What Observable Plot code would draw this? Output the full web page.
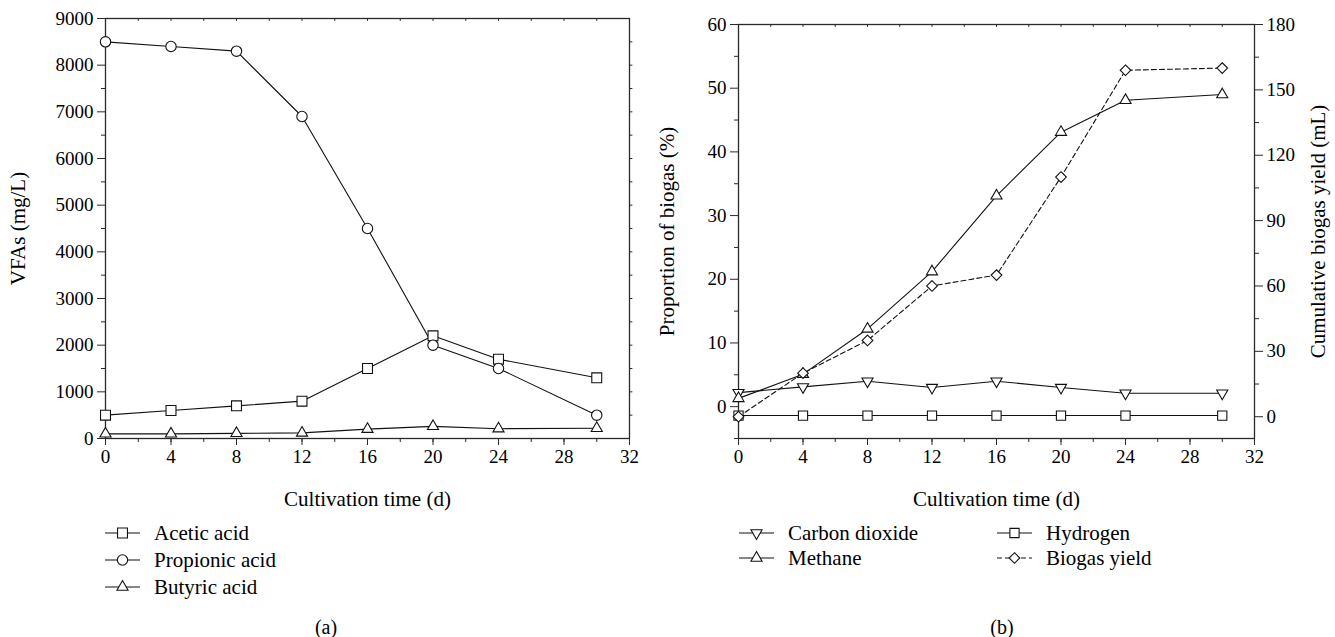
<!DOCTYPE html>
<html>
<head>
<meta charset="utf-8">
<script src="https://cdn.jsdelivr.net/npm/d3@7"></script>
<script src="https://cdn.jsdelivr.net/npm/@observablehq/plot@0.6"></script>
<style>
  html, body { margin: 0; padding: 0; background: #fff; }
  body { font-family: "Liberation Serif", "DejaVu Serif", serif; color: #000; }
  #wrap { position: relative; width: 1335px; height: 637px; overflow: hidden; }
  .panel { position: absolute; top: 0; }
  .panel svg { overflow: visible; }
  .leg { position: absolute; display: flex; align-items: center; font-size: 21px; line-height: 1; white-space: nowrap; }
  .leg svg { display: block; margin-right: 13px; }
  .cap { position: absolute; font-size: 20px; transform: translate(-50%, -50%); }
</style>
</head>
<body>
<div id="wrap">
  <div id="a" class="panel" style="left:0px"></div>
  <div id="b" class="panel" style="left:640px"></div>
  <div class="cap" style="left:326px; top:627px">(a)</div>
  <div class="cap" style="left:1002px; top:627px">(b)</div>
</div>
<script>
// ---------- data ----------
const days = [0, 4, 8, 12, 16, 20, 24, 30];

// panel (a): VFAs (mg/L)
const acetic    = [500, 600, 700, 800, 1500, 2200, 1700, 1300];
const propionic = [8500, 8400, 8300, 6900, 4500, 2000, 1500, 500];
const butyric   = [100, 100, 110, 120, 200, 260, 210, 220];

// panel (b): proportion of biogas (%) and cumulative yield (mL)
const carbonDioxide = [2.2, 3.1, 4.0, 3.0, 4.0, 3.0, 2.1, 2.1];
const methane       = [1.3, 5.1, 12.2, 21.2, 33.1, 43.1, 48.1, 49.0];
const hydrogen      = [-1.4, -1.4, -1.4, -1.4, -1.4, -1.4, -1.4, -1.4];
const biogasYield   = [0, 20, 35, 60, 65, 110, 159, 160];

// ticks
const xTicks      = [0, 4, 8, 12, 16, 20, 24, 28, 32];
const xMinorTicks = d3.range(0, 33, 2);
const yTicksA     = [0, 1000, 2000, 3000, 4000, 5000, 6000, 7000, 8000, 9000];
const yMinorA     = d3.range(500, 9000, 1000);
const yTicksB     = [0, 10, 20, 30, 40, 50, 60];
const yMinorB     = [-5, 5, 15, 25, 35, 45, 55];
const yRightTicks = [0, 30, 60, 90, 120, 150, 180];
const yRightMinor = [15, 45, 75, 105, 135, 165];

// ---------- styling ----------
const FONT = "'Liberation Serif', 'DejaVu Serif', serif";
const AXIS = "#2a2a2a";
const LINE = "#111";
const LABEL_SIZE = 21;

// right axis (mL) shares the left scale through a linear mapping
const LEFT_DOMAIN = [-5, 60], RIGHT_DOMAIN = [-10, 180];
const toLeft = v => LEFT_DOMAIN[0] + (v - RIGHT_DOMAIN[0]) * (LEFT_DOMAIN[1] - LEFT_DOMAIN[0]) / (RIGHT_DOMAIN[1] - RIGHT_DOMAIN[0]);
const fromLeft = v => RIGHT_DOMAIN[0] + (v - LEFT_DOMAIN[0]) * (RIGHT_DOMAIN[1] - RIGHT_DOMAIN[0]) / (LEFT_DOMAIN[1] - LEFT_DOMAIN[0]);

const seriesA = [
  {name: "Acetic acid",    values: acetic,    symbol: "square",    r: 5.6, rotate: 0},
  {name: "Propionic acid", values: propionic, symbol: "circle",    r: 5.2, rotate: 0},
  {name: "Butyric acid",   values: butyric,   symbol: "triangle2", r: 5.3, rotate: 0}
];
const seriesB = [
  {name: "Carbon dioxide", values: carbonDioxide, symbol: "triangle2", r: 5.3, rotate: 180, dash: null},
  {name: "Methane",        values: methane,       symbol: "triangle2", r: 5.3, rotate: 0,   dash: null},
  {name: "Hydrogen",       values: hydrogen,      symbol: "square",    r: 5.2, rotate: 0,   dash: null},
  {name: "Biogas yield",   values: biogasYield.map(toLeft), symbol: "diamond2", r: 4.8, rotate: 0, dash: "5,3"}
];

const rows = s => days.map((d, i) => ({day: d, value: s.values[i]}));

const tickShape = {draw(ctx, l) { ctx.moveTo(0, 0); ctx.lineTo(0, -l); }};
function edgeTicks(values, dim, anchor, length, rotate) {
  return Plot.vector(values, {
    [dim]: d => d, frameAnchor: anchor, length, rotate,
    shape: tickShape, anchor: "start", stroke: AXIS, strokeWidth: 1
  });
}

function seriesMarks(list) {
  return [
    ...list.map(s => Plot.line(rows(s), {x: "day", y: "value", stroke: LINE, strokeWidth: 1.1, strokeDasharray: s.dash || null})),
    ...list.map(s => Plot.dot(rows(s), {x: "day", y: "value", symbol: s.symbol, r: s.r, rotate: s.rotate, fill: "white", stroke: LINE, strokeWidth: 1.1}))
  ];
}

// axis title only (no ticks), so it can have its own font size
const titleY = (label, anchor, offset) => Plot.axisY([], {anchor, label, labelAnchor: "center", labelArrow: "none", labelOffset: offset, fontSize: LABEL_SIZE, tickSize: 0});
const titleX = (label, offset) => Plot.axisX([], {label, labelAnchor: "center", labelArrow: "none", labelOffset: offset, fontSize: LABEL_SIZE, tickSize: 0});

// ---------- panel (a) ----------
const plotA = Plot.plot({
  width: 660, height: 520,
  marginLeft: 105, marginRight: 31, marginTop: 18, marginBottom: 82,
  style: {fontFamily: FONT, fontSize: "19px", color: "#000", background: "transparent", overflow: "visible"},
  x: {domain: [0, 32]},
  y: {domain: [0, 9000]},
  marks: [
    Plot.frame({stroke: AXIS, strokeWidth: 1.3}),
    Plot.axisY(yTicksA, {tickSize: 8, tickPadding: 4, tickFormat: d => String(d), label: null, stroke: AXIS}),
    Plot.axisY(yMinorA, {tickSize: 4, tickFormat: () => "", label: null, stroke: AXIS}),
    titleY("VFAs (mg/L)", "left", 95),
    Plot.axisX(xTicks, {tickSize: 7, tickPadding: 4, tickFormat: d => String(d), label: null, stroke: AXIS}),
    Plot.axisX(xMinorTicks, {tickSize: 4, tickFormat: () => "", label: null, stroke: AXIS}),
    titleX("Cultivation time (d)", 67),
    edgeTicks(xMinorTicks, "x", "top", 2, 180),
    edgeTicks(d3.range(500, 9000, 500), "y", "right", 2.5, 90),
    ...seriesMarks(seriesA)
  ]
});
document.getElementById("a").append(plotA);

// ---------- panel (b) ----------
const plotB = Plot.plot({
  width: 695, height: 520,
  marginLeft: 98, marginRight: 81, marginTop: 24, marginBottom: 82,
  style: {fontFamily: FONT, fontSize: "19px", color: "#000", background: "transparent", overflow: "visible"},
  x: {domain: [0, 32]},
  y: {domain: LEFT_DOMAIN},
  marks: [
    Plot.frame({stroke: AXIS, strokeWidth: 1.3}),
    Plot.axisY(yTicksB, {tickSize: 8, tickPadding: 4, tickFormat: d => String(d), label: null, stroke: AXIS}),
    Plot.axisY(yMinorB, {tickSize: 4, tickFormat: () => "", label: null, stroke: AXIS}),
    titleY("Proportion of biogas (%)", "left", 79),
    Plot.axisY(yRightTicks.map(toLeft), {anchor: "right", tickSize: 8, tickPadding: 4, tickFormat: d => String(Math.round(fromLeft(d))), label: null, stroke: AXIS}),
    Plot.axisY(yRightMinor.map(toLeft), {anchor: "right", tickSize: 4, tickFormat: () => "", label: null, stroke: AXIS}),
    titleY("Cumulative biogas yield (mL)", "right", 70),
    Plot.axisX(xTicks, {tickSize: 7, tickPadding: 4, tickFormat: d => String(d), label: null, stroke: AXIS}),
    Plot.axisX(xMinorTicks, {tickSize: 4, tickFormat: () => "", label: null, stroke: AXIS}),
    titleX("Cultivation time (d)", 67),
    edgeTicks(xMinorTicks, "x", "top", 2, 180),
    ...seriesMarks(seriesB)
  ]
});
document.getElementById("b").append(plotB);

// ---------- legends (HTML, below the plots) ----------
const symbolTypes = {square: d3.symbolSquare, circle: d3.symbolCircle, triangle2: d3.symbolTriangle2, diamond2: d3.symbolDiamond2};
function legendItem(s, left, top) {
  const div = d3.select("#wrap").append("div").attr("class", "leg")
    .style("left", left + "px").style("top", (top - 11) + "px");
  const svg = div.append("svg").attr("width", 36).attr("height", 22);
  svg.append("line").attr("x1", 0).attr("x2", 35).attr("y1", 11).attr("y2", 11)
    .attr("stroke", LINE).attr("stroke-width", 1.1).attr("stroke-dasharray", s.dash || null);
  svg.append("path").attr("d", d3.symbol(symbolTypes[s.symbol], Math.PI * s.r * s.r)())
    .attr("transform", `translate(17.5,11) rotate(${s.rotate || 0})`)
    .attr("fill", "white").attr("stroke", LINE).attr("stroke-width", 1.1);
  div.append("span").text(s.name);
}
legendItem(seriesA[0], 105, 533);
legendItem(seriesA[1], 105, 560);
legendItem(seriesA[2], 105, 587);
legendItem(seriesB[0], 739, 533);
legendItem(seriesB[1], 739, 558);
legendItem(seriesB[2], 997, 533);
legendItem(seriesB[3], 997, 558);
</script>
</body>
</html>
